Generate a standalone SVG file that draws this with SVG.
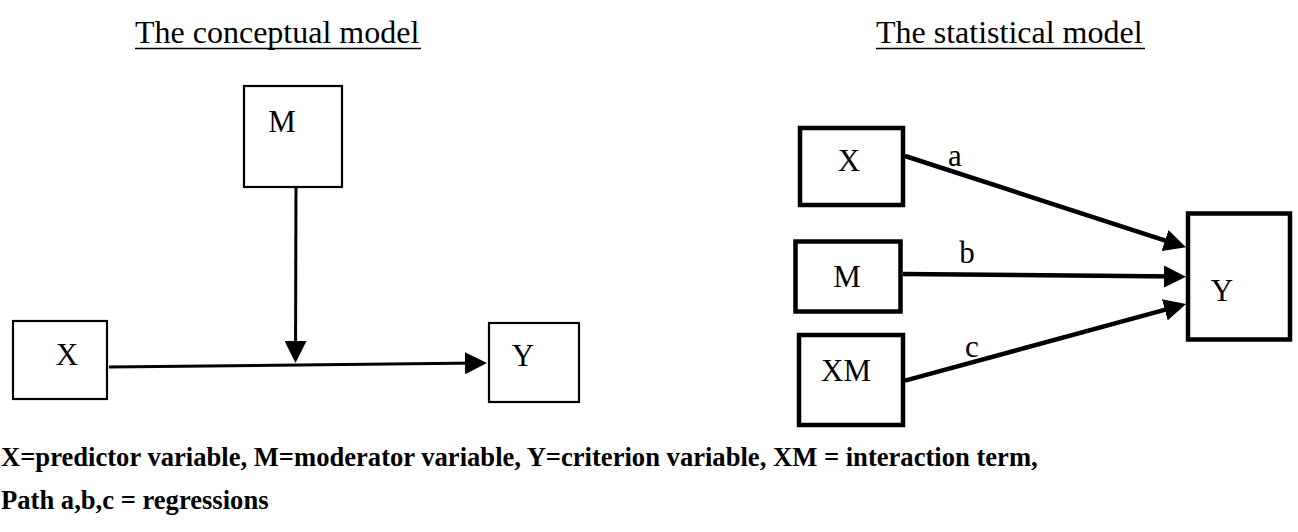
<svg xmlns="http://www.w3.org/2000/svg" width="1298" height="532" viewBox="0 0 1298 532">
<style>
text{font-family:"Liberation Serif","Times New Roman",serif;fill:#000}
.t{font-size:32px}
.n{font-size:31px;text-anchor:middle}
.f{font-size:26.6px;font-weight:bold}
.thin{fill:#fff;stroke:#000;stroke-width:2.2}
.thick{fill:#fff;stroke:#000;stroke-width:4.5}
.c1{fill:none;stroke:#000;stroke-width:3}
.c2{fill:none;stroke:#000;stroke-width:4.5}
.u{stroke:#000;stroke-width:1.6}
</style>
<defs>
<marker id="ah" markerUnits="userSpaceOnUse" markerWidth="22" markerHeight="22" refX="14" refY="11" orient="auto" viewBox="0 0 22 22">
<path d="M0,0 L22,11 L0,22 z" fill="#000"/>
</marker>
</defs>
<g id="titles">
<text class="t" x="135" y="43">The conceptual model</text>
<line class="u" x1="135" y1="48.5" x2="421" y2="48.5"/>
<text class="t" x="876" y="43">The statistical model</text>
<line class="u" x1="876" y1="48.5" x2="1145" y2="48.5"/>
</g>
<g id="connectors">
<path class="c1" d="M109,367 L479,363.1" marker-end="url(#ah)"/>
<path class="c1" d="M296,187 L295.5,355" marker-end="url(#ah)"/>
<path class="c2" d="M905,156 L1178.4,244.8" marker-end="url(#ah)"/>
<path class="c2" d="M903,274 L1178,276.6" marker-end="url(#ah)"/>
<path class="c2" d="M905,380.7 L1178.3,306.1" marker-end="url(#ah)"/>
<text class="n" x="955" y="166">a</text>
<text class="n" x="967" y="263">b</text>
<text class="n" x="972" y="357">c</text>
</g>
<g id="c-M">
<rect class="thin" x="244" y="86" width="98" height="101"/>
<text class="n" x="282" y="132">M</text>
</g>
<g id="c-X">
<rect class="thin" x="13" y="321" width="94" height="78"/>
<text class="n" x="67" y="365">X</text>
</g>
<g id="c-Y">
<rect class="thin" x="489" y="323" width="90" height="79"/>
<text class="n" x="523" y="365.5">Y</text>
</g>
<g id="s-X">
<rect class="thick" x="800" y="128" width="103" height="77"/>
<text class="n" x="849" y="171">X</text>
</g>
<g id="s-M">
<rect class="thick" x="795.5" y="241.5" width="105" height="70"/>
<text class="n" x="847" y="287">M</text>
</g>
<g id="s-XM">
<rect class="thick" x="799" y="335" width="104" height="90"/>
<text class="n" x="846" y="381">XM</text>
</g>
<g id="s-Y">
<rect class="thick" x="1188" y="213.5" width="102" height="126"/>
<text class="n" x="1222" y="301">Y</text>
</g>
<g id="legend">
<text class="f" x="1" y="466">X=predictor variable, M=moderator variable, Y=criterion variable, XM = interaction term,</text>
<text class="f" x="1" y="509">Path a,b,c = regressions</text>
</g>
</svg>
